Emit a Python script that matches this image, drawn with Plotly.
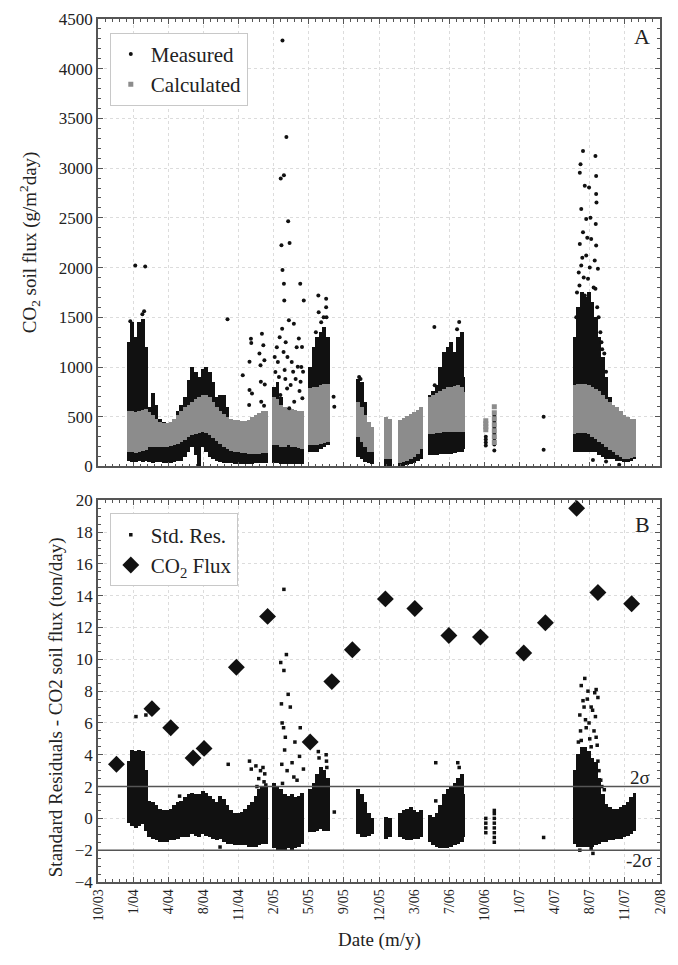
import datetime as dt
import plotly.graph_objects as go

FONT = "Liberation Serif"

# ---------------- axis labels ----------------
tick_labels = ["10/03", "1/04", "4/04", "8/04", "11/04", "2/05", "5/05", "9/05", "12/05",
               "3/06", "7/06", "10/06", "1/07", "4/07", "8/07", "11/07", "2/08"]
axis_start = "2003-10-15"
tick_step_days = 99

# ---------------- dense bands (per ~10-day period) ----------------
band_dates = [
    "2004-01-09", "2004-01-19", "2004-01-29", "2004-02-08", "2004-02-18", "2004-02-27",
    "2004-03-08", "2004-03-18", "2004-03-28", "2004-04-07", "2004-04-17", "2004-04-27",
    "2004-05-07", "2004-05-17", "2004-05-27", "2004-06-06", "2004-06-16", "2004-06-26",
    "2004-07-06", "2004-07-16", "2004-07-26", "2004-08-05", "2004-08-15", "2004-08-25",
    "2004-09-04", "2004-09-14", "2004-09-24", "2004-10-04", "2004-10-14", "2004-10-24",
    "2004-11-03", "2004-11-13", "2004-11-23", "2004-12-03", "2004-12-13", "2004-12-23",
    "2005-01-02", "2005-01-12", "2005-01-22", "2005-01-31",
    "2005-02-22", "2005-03-04", "2005-03-14", "2005-03-24", "2005-04-03", "2005-04-13",
    "2005-04-23", "2005-05-03", "2005-05-13",
    "2005-06-04", "2005-06-14", "2005-06-24", "2005-07-04", "2005-07-14", "2005-07-23",
    "2005-10-17", "2005-10-27", "2005-11-06", "2005-11-16", "2005-11-26",
    "2006-01-04", "2006-01-14",
    "2006-02-12", "2006-02-22", "2006-03-04", "2006-03-14", "2006-03-24", "2006-04-03", "2006-04-13",
    "2006-05-07", "2006-05-17", "2006-05-27", "2006-06-06", "2006-06-16", "2006-06-26",
    "2006-07-06", "2006-07-16", "2006-07-26", "2006-08-05", "2006-08-10",
    "2007-06-19", "2007-06-29", "2007-07-09", "2007-07-19", "2007-07-29", "2007-08-08",
    "2007-08-18", "2007-08-28", "2007-09-07", "2007-09-17", "2007-09-27", "2007-10-07",
    "2007-10-17", "2007-10-27", "2007-11-06", "2007-11-16", "2007-11-26", "2007-12-05",
]
calc_lo = [150, 150, 140, 150, 160, 170,
           200, 200, 200, 200, 200, 200,
           210, 220, 230, 250, 270, 300,
           320, 330, 340, 350, 340, 320,
           290, 260, 230, 200, 180, 160,
           150, 150, 140, 140, 130, 130,
           130, 130, 140, 140,
           220, 220, 200, 200, 220, 200,
           200, 190, 180,
           220, 220, 220, 230, 240, 250,
           300, 250, 200, 150, 150,
           80, 80,
           30, 40, 50, 80, 100, 130, 180,
           330, 330, 340, 340, 350, 350,
           350, 350, 350, 350, 350,
           330, 340, 340, 340, 330, 300,
           280, 250, 230, 200, 170, 150,
           120, 100, 80, 80, 90, 100]
calc_hi = [560, 560, 550, 560, 570, 580,
           550, 520, 480, 450, 440, 440,
           450, 480, 520, 560, 600, 620,
           650, 680, 700, 720, 720, 700,
           650, 600, 560, 530, 500, 480,
           470, 470, 460, 460, 470, 500,
           520, 540, 560, 560,
           700, 680, 620, 600, 590, 580,
           570, 560, 560,
           790, 800, 800, 820, 830, 830,
           650, 600, 520, 450, 400,
           500, 480,
           470, 490, 510, 530, 550, 570, 600,
           700, 720, 740, 760, 780, 800,
           800, 810, 820, 800, 750,
           820, 830, 830, 830, 820, 800,
           780, 760, 720, 680, 650, 620,
           600, 560, 520, 500, 480, 480]
meas_lo = [60, 40, 40, 50, 40, 60,
           40, 30, 40, 40, 30, 30,
           30, 40, 50, 60, 100, 150,
           200, 120, 0, 200, 150, 100,
           80, 60, 40, 30, 30, 30,
           20, 20, 20, 20, 20, 20,
           30, 30, 30, 30,
           30, 30, 20, 20, 20, 20,
           20, 20, 20,
           150, 150, 150, 180, 200, 220,
           100, 80, 40, 30, 20,
           0, 0,
           0, 0, 10, 20, 30, 50, 80,
           120, 120, 120, 130, 130, 130,
           130, 140, 150, 150, 180,
           150, 150, 150, 150, 150, 150,
           150, 120, 100, 80, 80, 80,
           60, 50, 40, 40, 50, 80]
meas_hi = [1250, 1450, 1300, 1450, 1480, 1200,
           600, 740, 620, 480, 450, 420,
           400, 480, 560, 620, 700, 870,
           1000, 950, 900, 980, 1000, 950,
           850, 700, 720, 720, 600, 430,
           420, 400, 350, 300, 300, 300,
           300, 350, 400, 400,
           800, 850, 700, 350, 300, 280,
           300, 300, 280,
           1000, 1200, 1300, 1350, 1400, 1300,
           880, 850, 650, 400, 300,
           250, 250,
           100, 150, 150, 200, 220, 250, 260,
           720, 760, 820, 1000, 1150, 1200,
           1250, 1150, 1300, 1350, 900,
           1300, 1600, 1750, 1700, 1750, 1650,
           1500, 1300, 1100, 900, 700, 600,
           500, 380, 350, 380, 420, 480]
res_lo = [-0.3, -0.5, -0.6, -0.5, -0.4, -0.8,
          -1.2, -1.3, -1.4, -1.5, -1.5, -1.5,
          -1.4, -1.4, -1.3, -1.2, -1.2, -1.2,
          -1.0, -1.1, -1.2, -1.0, -1.1, -1.2,
          -1.3, -1.4, -1.3, -1.5, -1.6, -1.6,
          -1.7, -1.7, -1.7, -1.7, -1.8, -1.8,
          -1.8, -1.7, -1.6, -1.6,
          -1.9, -2.0, -2.0, -2.0, -1.9, -2.0,
          -1.9, -1.8, -1.6,
          -0.9, -0.9, -0.8, -0.7, -0.8, -0.8,
          -1.0, -1.2, -1.2, -1.1, -1.0,
          -1.3, -1.2,
          -1.2, -1.3, -1.4, -1.4, -1.3, -1.3, -1.2,
          -1.5, -1.7, -1.8, -1.9, -1.9, -1.9,
          -1.8, -1.7, -1.6, -1.5, -1.2,
          -1.6, -1.8, -1.8, -1.8, -1.8, -1.8,
          -1.7, -1.6, -1.5, -1.5, -1.4, -1.4,
          -1.3, -1.3, -1.2, -1.1, -1.0, -0.8]
res_hi = [3.6, 4.3, 4.2, 4.3, 4.2, 3.0,
          1.1, 1.0, 0.8, 0.6, 0.5, 0.5,
          0.6, 0.8, 1.0, 1.1, 1.3, 1.5,
          1.6, 1.5, 1.5, 1.7, 1.6, 1.4,
          1.2, 1.0, 1.4, 1.2, 0.8, 0.5,
          0.3, 0.3, 0.4, 0.6, 0.8, 1.0,
          1.4, 1.8, 2.0, 2.0,
          2.2, 2.0, 1.8, 1.5, 1.4, 1.5,
          1.3, 1.4, 1.6,
          1.8, 2.2, 2.8, 3.2, 3.0, 2.5,
          1.8, 1.5, 1.0, 0.3, 0.0,
          0.1, 0.0,
          0.3, 0.5, 0.6, 0.7, 0.5, 0.4, 0.5,
          0.2, 0.1, 0.3, 0.8, 1.5, 1.8,
          2.0, 2.2, 2.5, 2.8, 1.5,
          3.0, 4.0, 4.5, 4.5, 4.2, 3.8,
          3.5, 2.5, 1.5, 0.9, 0.7, 0.6,
          0.6, 0.7, 0.8, 1.0, 1.3, 1.6]

# ---------------- individual points ----------------
meas_pt_dates = [
    "2004-01-28", "2004-02-25", "2004-01-14", "2004-02-17", "2004-02-22",
    "2004-10-14", "2004-11-26", "2004-12-15", "2004-12-15", "2004-12-14", "2004-12-19",
    "2004-12-20", "2004-12-22", "2005-01-12", "2005-01-15", "2005-01-16", "2005-01-17",
    "2005-01-19", "2005-01-23", "2005-01-26", "2005-01-27", "2005-01-25",
    "2005-03-18", "2005-03-29", "2005-03-13", "2005-03-22", "2005-04-03", "2005-03-15",
    "2005-04-07", "2005-03-18", "2005-03-22", "2005-05-07", "2005-03-23", "2005-05-17",
    "2005-04-05", "2005-04-19", "2005-03-17", "2005-05-03", "2005-05-12", "2005-03-21",
    "2005-04-30", "2005-03-24", "2005-04-17", "2005-05-15", "2005-03-31", "2005-05-08",
    "2005-04-20", "2005-05-13", "2005-03-12", "2005-04-06",
    "2005-02-24", "2005-02-26", "2005-03-02", "2005-03-05", "2005-03-08", "2005-03-10",
    "2005-03-26", "2005-03-27", "2005-04-01", "2005-04-10", "2005-04-13", "2005-04-24",
    "2005-04-27", "2005-05-05", "2005-05-10",
    "2005-06-27", "2005-07-19", "2005-07-19", "2005-07-20", "2005-06-28", "2005-07-05",
    "2005-07-12", "2005-06-20", "2005-08-09", "2005-08-11", "2005-10-20", "2005-10-24",
    "2006-05-20", "2006-05-21", "2006-07-29", "2006-07-23",
    "2006-10-12", "2006-10-12", "2006-10-12", "2006-10-12",
    "2006-11-05", "2006-11-05", "2006-11-05", "2006-11-05", "2006-11-05", "2006-11-05", "2006-11-05",
    "2007-03-24", "2007-03-24",
    "2007-07-13", "2007-08-17", "2007-07-06", "2007-07-04", "2007-08-19", "2007-07-18",
    "2007-07-30", "2007-08-19", "2007-08-20", "2007-07-08", "2007-07-22", "2007-08-18",
    "2007-07-13", "2007-08-05", "2007-07-04", "2007-08-19", "2007-07-22", "2007-08-15",
    "2007-07-08", "2007-08-24", "2007-07-27", "2007-07-03", "2007-08-17", "2007-07-18",
    "2007-09-11", "2007-09-16", "2007-08-10", "2007-09-16", "2007-10-23",
    "2007-06-24", "2007-06-26", "2007-07-01", "2007-07-11", "2007-07-15", "2007-07-25",
    "2007-08-01", "2007-08-03", "2007-08-12", "2007-08-22", "2007-08-26", "2007-08-31",
    "2007-09-03", "2007-09-05",
]
meas_pt_vals = [
    2020, 2010, 1460, 1530, 1560,
    1480, 918, 1052, 768, 617, 1285,
    1242, 735, 1135, 1019, 852, 651,
    1335, 1219, 1069, 825, 611,
    4285, 3313, 2896, 2929, 2465, 2224,
    2247, 1977, 1837, 1837, 1670, 1670,
    1470, 1436, 1386, 1286, 1202, 1152,
    1002, 969, 952, 952, 785, 852,
    651, 685, 718, 585,
    1100, 950, 1200, 1050, 900, 1300,
    880, 1250, 1100, 820, 1050, 880,
    1200, 760, 1000,
    1720, 1686, 1600, 1500, 1550, 1450,
    1500, 1350, 701, 601, 900, 880,
    1403, 818, 1453, 1380,
    210, 240, 270, 300,
    160, 220, 280, 330, 390, 450, 510,
    501, 167,
    3173, 3123, 3039, 2955, 2922, 2822,
    2806, 2739, 2655, 2589, 2488, 2438,
    2355, 2288, 2238, 2222, 2121, 2071,
    2021, 1988, 1887, 1820, 1787, 1720,
    1135, 952, 66, 50, 17,
    1500, 1750, 1950, 2100, 1900, 2300,
    2000, 2500, 1800, 1600, 1500, 1350,
    1250, 1180,
]
calc_pt_dates = ["2006-10-12", "2006-10-12", "2006-10-12", "2006-10-12",
                 "2006-11-05", "2006-11-05", "2006-11-05", "2006-11-05",
                 "2006-11-05", "2006-11-05", "2006-11-05"]
calc_pt_vals = [370, 400, 430, 460, 240, 300, 360, 420, 480, 540, 600]

res_pt_dates = [
    "2004-01-30", "2004-02-27", "2004-10-16", "2004-06-01", "2004-09-23",
    "2004-12-15", "2004-12-20", "2005-01-02", "2005-01-10", "2005-01-15", "2005-01-22",
    "2005-01-27", "2005-01-05", "2005-01-18", "2005-01-25", "2005-01-30",
    "2005-03-22", "2005-03-13", "2005-03-22", "2005-03-29", "2005-03-15", "2005-04-03",
    "2005-04-09", "2005-03-17", "2005-03-21", "2005-05-07", "2005-03-26", "2005-04-22",
    "2005-03-24", "2005-05-05", "2005-04-14", "2005-03-16", "2005-03-31", "2005-05-16",
    "2005-04-19", "2005-03-18", "2005-04-28",
    "2005-06-27", "2005-06-29", "2005-07-19", "2005-07-20", "2005-07-21", "2005-08-11",
    "2006-05-24", "2006-05-24", "2006-07-25", "2006-07-29",
    "2006-10-12", "2006-10-12", "2006-10-12", "2006-10-12",
    "2006-11-05", "2006-11-05", "2006-11-05", "2006-11-05",
    "2006-11-05", "2006-11-05", "2006-11-05", "2006-11-05",
    "2007-03-24",
    "2007-07-18", "2007-07-08", "2007-07-27", "2007-08-19", "2007-08-24", "2007-07-13",
    "2007-08-05", "2007-07-04", "2007-08-17", "2007-07-22", "2007-08-19", "2007-07-08",
    "2007-08-05", "2007-07-01", "2007-08-24", "2007-09-11", "2007-07-04", "2007-08-05",
    "2007-08-10",
    "2007-07-16", "2007-07-25", "2007-07-30", "2007-08-09", "2007-08-13", "2007-08-15",
    "2007-07-06", "2007-07-20", "2007-08-01", "2007-08-22", "2007-06-30", "2007-08-27",
    "2007-09-01", "2007-09-04",
]
res_pt_vals = [
    6.4, 6.5, 3.4, 1.4, -1.8,
    3.6, 3.1, 3.3, 2.5, 3.0, 3.2,
    2.8, 2.0, 1.9, 2.3, 2.1,
    14.4, 9.8, 9.3, 10.3, 7.2, 7.8,
    7.0, 6.0, 5.7, 5.7, 5.1, 4.8,
    4.3, 3.9, 3.5, 3.4, 3.0, 3.1,
    2.6, 2.2, 2.4,
    4.2, 3.8, 4.0, 3.6, 3.2, 0.4,
    3.5, 1.1, 3.5, 3.2,
    -0.9, -0.6, -0.3, 0.0,
    -1.5, -1.2, -0.9, -0.6,
    -0.3, 0.0, 0.3, 0.5,
    -1.2,
    8.8, 8.35, 8.0, 8.1, 7.6, 7.4,
    7.0, 6.5, 6.4, 5.7, 5.1, 4.9,
    4.5, 3.85, 3.6, 1.8, -2.0, -1.9,
    -2.2,
    7.0, 7.5, 6.0, 6.8, 5.5, 7.9,
    5.5, 6.2, 5.0, 4.6, 4.8, 3.0,
    2.4, 2.0,
]

flux_dates = ["2003-12-06", "2004-03-15", "2004-05-07", "2004-07-09", "2004-08-09",
              "2004-11-08", "2005-02-04", "2005-06-04", "2005-08-04", "2005-10-01",
              "2006-01-02", "2006-03-26", "2006-06-30", "2006-09-27", "2007-01-27",
              "2007-03-29", "2007-06-25", "2007-08-24", "2007-11-27"]
flux_vals = [3.4, 6.9, 5.7, 3.8, 4.4, 9.5, 12.7, 4.8, 8.6, 10.6,
             13.8, 13.2, 11.5, 11.4, 10.4, 12.3, 19.5, 14.2, 13.5]

sigma_levels = [2, -2]
sigma_labels = ["2σ", "-2σ"]

# ---------------- helpers ----------------
DAY_MS = 86400000
BAR_W = 11 * DAY_MS
BLACK = "#111111"
GREY = "#8c8c8c"


def band(dates, lo, hi):
    xs, base, h = [], [], []
    for d, a, b in zip(dates, lo, hi):
        if a is None or b is None:
            continue
        xs.append(d)
        base.append(a)
        h.append(b - a)
    return xs, base, h


start = dt.datetime.fromisoformat(axis_start)
tickvals = [(start + dt.timedelta(days=tick_step_days * k)).strftime("%Y-%m-%d %H:%M")
            for k in range(len(tick_labels))]
minor_vals = [(start + dt.timedelta(days=tick_step_days * k / 5)).strftime("%Y-%m-%d %H:%M")
              for k in range(5 * (len(tick_labels) - 1) + 1)]
x_range = [tickvals[0], tickvals[-1]]

fig = go.Figure()

# Panel A: measured band (under), calculated band (over)
xs, base, h = band(band_dates, meas_lo, meas_hi)
fig.add_trace(go.Bar(x=xs, y=h, base=base, width=BAR_W, marker=dict(color=BLACK, line=dict(width=0)),
                     opacity=1, showlegend=False, xaxis="x", yaxis="y", hoverinfo="skip"))
xs, base, h = band(band_dates, calc_lo, calc_hi)
fig.add_trace(go.Bar(x=xs, y=h, base=base, width=BAR_W, marker=dict(color=GREY, line=dict(width=0)),
                     opacity=1, showlegend=False, xaxis="x", yaxis="y", hoverinfo="skip"))
fig.add_trace(go.Scatter(x=meas_pt_dates, y=meas_pt_vals, mode="markers", name="Measured",
                         marker=dict(color=BLACK, size=4, symbol="circle"),
                         xaxis="x", yaxis="y", legend="legend"))
fig.add_trace(go.Scatter(x=calc_pt_dates, y=calc_pt_vals, mode="markers", name="Calculated",
                         marker=dict(color=GREY, size=5, symbol="square"),
                         xaxis="x", yaxis="y", legend="legend"))

# Panel B
xs, base, h = band(band_dates, res_lo, res_hi)
fig.add_trace(go.Bar(x=xs, y=h, base=base, width=BAR_W, marker=dict(color=BLACK, line=dict(width=0)),
                     opacity=1, showlegend=False, xaxis="x2", yaxis="y2", hoverinfo="skip"))
fig.add_trace(go.Scatter(x=res_pt_dates, y=res_pt_vals, mode="markers", name="Std. Res.",
                         marker=dict(color=BLACK, size=3.5, symbol="square"),
                         xaxis="x2", yaxis="y2", legend="legend2"))
fig.add_trace(go.Scatter(x=flux_dates, y=flux_vals, mode="markers", name="CO<sub>2</sub> Flux",
                         marker=dict(color=BLACK, size=13, symbol="diamond"),
                         xaxis="x2", yaxis="y2", legend="legend2"))

for lvl in sigma_levels:
    fig.add_shape(type="line", xref="x2 domain", yref="y2", x0=0, x1=1, y0=lvl, y1=lvl,
                  line=dict(color="#555", width=1.5))

LINE = "#555"
common = dict(showline=True, linecolor=LINE, linewidth=1.5, mirror="allticks",
              ticks="inside", ticklen=5, tickcolor=LINE, tickwidth=1,
              showgrid=True, gridcolor="#dcdcdc", griddash="dot", gridwidth=1,
              zeroline=False)
minor_y = dict(ticks="inside", ticklen=3, tickcolor=LINE, showgrid=False)
minor_x = dict(ticks="inside", ticklen=3, tickcolor=LINE, showgrid=False, tickvals=minor_vals)

yA = [0.4815, 1.0]
yB = [0.0, 0.4423]

fig.update_layout(
    width=678, height=965,
    margin=dict(l=98, r=10, t=16, b=83),
    paper_bgcolor="white", plot_bgcolor="white",
    barmode="overlay", bargap=0,
    font=dict(family=FONT, color="#222"),
    xaxis=dict(**common, type="date", range=x_range, tickvals=tickvals, ticktext=tick_labels,
               showticklabels=False, anchor="y", domain=[0, 1], minor=minor_x),
    yaxis=dict(**common, range=[0, 4500], dtick=500, tick0=0, anchor="x", domain=yA,
               tickfont=dict(family=FONT, size=17, color="#222"), minor=dict(**minor_y, dtick=100)),
    xaxis2=dict(**common, type="date", range=x_range, tickvals=tickvals, ticktext=tick_labels,
                tickangle=-90, anchor="y2", domain=[0, 1], matches="x",
                tickfont=dict(family=FONT, size=14, color="#222"), minor=minor_x),
    yaxis2=dict(**common, range=[-4, 20], dtick=2, tick0=0, anchor="x2", domain=yB,
                tickfont=dict(family=FONT, size=17, color="#222"), minor=dict(**minor_y, dtick=0.5)),
    legend=dict(x=0.021, y=0.984, xanchor="left", yanchor="top", bgcolor="white",
                bordercolor="#c8c8c8", borderwidth=1, font=dict(family=FONT, size=21, color="#222"),
                tracegroupgap=0, itemwidth=30),
    legend2=dict(x=0.021, y=0.427, xanchor="left", yanchor="top", bgcolor="white",
                 bordercolor="#c8c8c8", borderwidth=1, font=dict(family=FONT, size=21, color="#222"),
                 tracegroupgap=0, itemwidth=30),
    showlegend=True,
)

ann = [
    dict(text="A", x=0.968, y=0.980, size=22),
    dict(text="B", x=0.968, y=0.4145, size=22),
    dict(text=sigma_labels[0], x=0.965, y=0.121, size=19),
    dict(text=sigma_labels[1], x=0.962, y=0.0254, size=19),
]
for a in ann:
    fig.add_annotation(text=a["text"], x=a["x"], y=a["y"], xref="paper", yref="paper",
                       showarrow=False, xanchor="center", yanchor="middle",
                       font=dict(family=FONT, size=a["size"], color="#222"))

fig.add_annotation(text="CO<sub>2</sub> soil flux (g/m<sup>2</sup>day)", x=-0.1228, y=0.7413,
                   xref="paper", yref="paper", showarrow=False, textangle=-90,
                   xanchor="center", yanchor="middle", font=dict(family=FONT, size=19, color="#222"))
fig.add_annotation(text="Standard Residuals - CO2 soil flux (ton/day)", x=-0.0754, y=0.2021,
                   xref="paper", yref="paper", showarrow=False, textangle=-90,
                   xanchor="center", yanchor="middle", font=dict(family=FONT, size=19, color="#222"))
fig.add_annotation(text="Date (m/y)", x=0.5, y=-0.067, xref="paper", yref="paper",
                   showarrow=False, xanchor="center", yanchor="middle",
                   font=dict(family=FONT, size=19, color="#222"))

fig.write_html("out.html")
